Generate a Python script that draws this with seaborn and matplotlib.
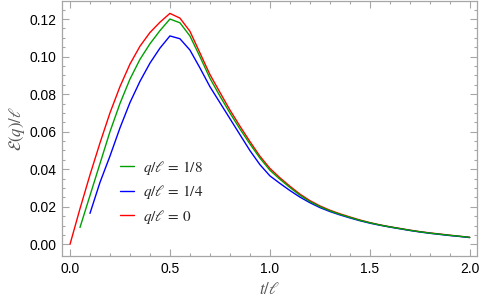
import numpy as np
import pandas as pd
import matplotlib
matplotlib.use("Agg")
import matplotlib.pyplot as plt
import seaborn as sns

# values
t_vals = [0.00, 0.05, 0.10, 0.15, 0.20, 0.25, 0.30, 0.35, 0.40, 0.45, 0.50,
          0.55, 0.60, 0.65, 0.70, 0.75, 0.80, 0.85, 0.90, 0.95, 1.00,
          1.05, 1.10, 1.15, 1.20, 1.25, 1.30, 1.35, 1.40, 1.45, 1.50,
          1.55, 1.60, 1.65, 1.70, 1.75, 1.80, 1.85, 1.90, 1.95, 2.00]

e_q0 = [0.000, 0.019, 0.037, 0.054, 0.070, 0.084, 0.096, 0.1055, 0.1128, 0.1183, 0.123,
        0.1205, 0.1135, 0.102, 0.0905, 0.081, 0.0716, 0.063, 0.0548, 0.047, 0.0405,
        0.0355, 0.0310, 0.0268, 0.0233, 0.0205, 0.0182, 0.0163, 0.0146, 0.0130, 0.0116,
        0.0104, 0.0094, 0.0085, 0.0076, 0.0068, 0.0061, 0.0055, 0.0049, 0.0043, 0.0038]

e_q18 = [np.nan, 0.009, 0.026, 0.043, 0.060, 0.075, 0.088, 0.0985, 0.1068, 0.1138, 0.120,
         0.118, 0.111, 0.100, 0.0885, 0.079, 0.070, 0.0615, 0.0535, 0.046, 0.0395,
         0.0347, 0.0303, 0.0262, 0.0228, 0.0201, 0.0179, 0.0160, 0.0144, 0.0128, 0.0115,
         0.0103, 0.0093, 0.0084, 0.0075, 0.0067, 0.0060, 0.0054, 0.0048, 0.0043, 0.0037]

e_q14 = [np.nan, np.nan, 0.0165, 0.033, 0.047, 0.062, 0.0755, 0.0868, 0.0965, 0.1045, 0.111,
         0.1095, 0.1035, 0.094, 0.084, 0.0755, 0.067, 0.0585, 0.050, 0.0425, 0.0365,
         0.0325, 0.0287, 0.0252, 0.0222, 0.0196, 0.0175, 0.0157, 0.0141, 0.0126, 0.0113,
         0.0102, 0.0092, 0.0083, 0.0074, 0.0066, 0.0059, 0.0053, 0.0047, 0.0042, 0.0036]

labels = [r"$q/\ell\, =\, 1/8$", r"$q/\ell\, =\, 1/4$", r"$q/\ell\, =\, 0$"]
colors = ["#00a000", "#0000ff", "#ff0000"]

sns.set_style("ticks")
plt.rcParams["font.family"] = ["Liberation Sans", "DejaVu Sans"]
plt.rcParams["mathtext.fontset"] = "stix"

fig = plt.figure(figsize=(4.82, 3.04), dpi=100)
ax = fig.add_axes([62 / 482, 48 / 304, 415 / 482, 255 / 304])

# draw red first, then blue, then green on top
series = {labels[2]: e_q0, labels[1]: e_q14, labels[0]: e_q18}
for lab, col in zip([labels[2], labels[1], labels[0]], [colors[2], colors[1], colors[0]]):
    df = pd.DataFrame({"t": t_vals, "E": series[lab]}).dropna()
    sns.lineplot(data=df, x="t", y="E", color=col, linewidth=1.0, label=lab, ax=ax)

ax.set_xlim(-0.04, 2.0365)
ax.set_ylim(-0.0062, 0.1296)
ax.set_xticks([0, 0.5, 1.0, 1.5, 2.0])
ax.set_xticklabels(["0.0", "0.5", "1.0", "1.5", "2.0"])
ax.set_yticks([0, 0.02, 0.04, 0.06, 0.08, 0.10, 0.12])
ax.set_yticklabels(["0.00", "0.02", "0.04", "0.06", "0.08", "0.10", "0.12"])
ax.set_xticks(np.arange(0, 2.01, 0.1), minor=True)
ax.set_yticks(np.arange(0, 0.1296, 0.005), minor=True)

frame_col = "#a6a6a6"
for sp in ax.spines.values():
    sp.set_visible(True)
    sp.set_color(frame_col)
    sp.set_linewidth(0.9)
ax.tick_params(which="both", direction="in", top=True, right=True,
               color=frame_col, width=0.8, labelsize=10, labelcolor="black")
ax.tick_params(which="major", length=5, pad=4)
ax.tick_params(which="minor", length=2.5)

ax.set_xlabel(r"$t/\ell$", fontsize=12, color="#555555", labelpad=4)
ax.set_ylabel(r"$\mathcal{E}(q)/\ell$", fontsize=12, color="#555555", labelpad=2)

handles, labs = ax.get_legend_handles_labels()
order = [labs.index(l) for l in labels]
ax.legend([handles[i] for i in order], [labs[i] for i in order],
          loc="upper left", bbox_to_anchor=(0.125, 0.405), frameon=False,
          fontsize=11, handlelength=0.9, handletextpad=0.6, labelspacing=0.42,
          borderaxespad=0)

fig.savefig("out.png", dpi=100)
